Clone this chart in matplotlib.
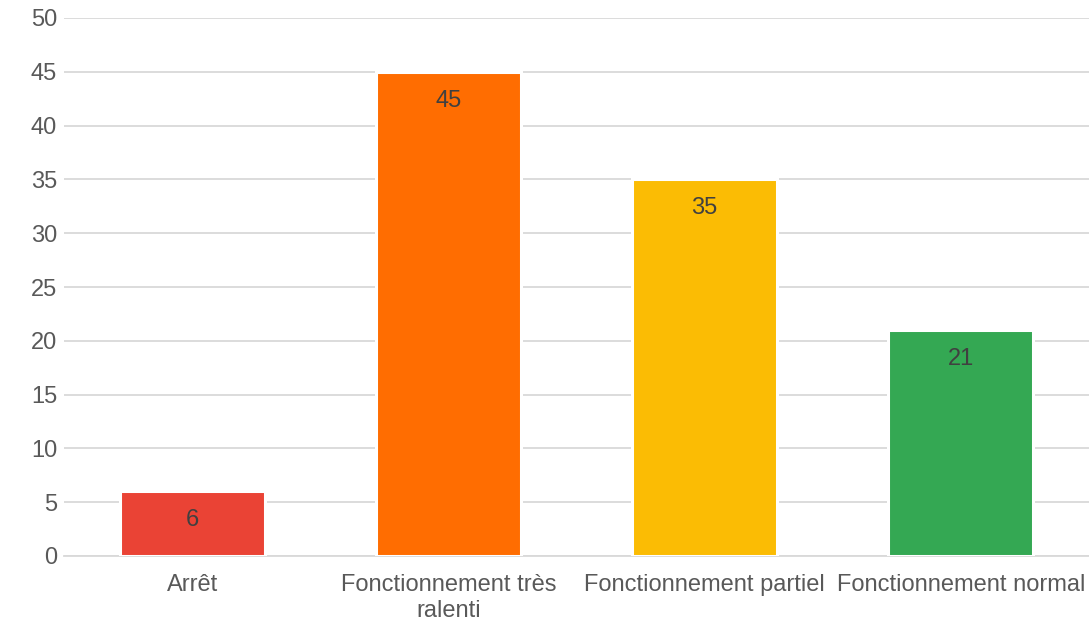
import matplotlib
matplotlib.use("Agg")
import matplotlib.pyplot as plt

categories = ["Arrêt", "Fonctionnement très\nralenti", "Fonctionnement partiel", "Fonctionnement normal"]
values = [6, 45, 35, 21]
colors = ["#EA4335", "#FF6D01", "#FBBC04", "#34A853"]
yticks = [0, 5, 10, 15, 20, 25, 30, 35, 40, 45, 50]

plt.rcParams['font.family'] = ['Liberation Sans', 'DejaVu Sans']

fig = plt.figure(figsize=(10.89, 6.21), dpi=100)
ax = fig.add_axes([64/1089, 1 - 556/621, (1089 - 64)/1089, (556 - 18)/621])

x = list(range(len(categories)))
bars = ax.bar(x, values, width=0.565, color=colors, edgecolor="white", linewidth=2.2, zorder=3)
for xi, v in zip(x, values):
    ax.text(xi, v - 1.65, str(v), ha="center", va="top", fontsize=17, color="#404040", zorder=4)

ax.set_xlim(-0.5, len(categories) - 0.5)
ax.set_ylim(0, 50)
ax.set_yticks(yticks)
ax.set_yticklabels([str(t) for t in yticks], fontsize=17, color="#595959")
ax.set_xticks(x)
ax.set_xticklabels(categories, fontsize=17, color="#595959", linespacing=1.22)
ax.tick_params(axis="both", length=0)
ax.tick_params(axis="y", pad=5)
ax.tick_params(axis="x", pad=13)
ax.yaxis.grid(True, color="#d9d9d9", linewidth=1.3, zorder=0)
ax.set_axisbelow(True)
for s in ["top", "right", "left"]:
    ax.spines[s].set_visible(False)
ax.spines["bottom"].set_color("#d9d9d9")
ax.spines["bottom"].set_linewidth(1.3)
ax.spines["bottom"].set_zorder(0)

fig.savefig("out.png", dpi=100)
